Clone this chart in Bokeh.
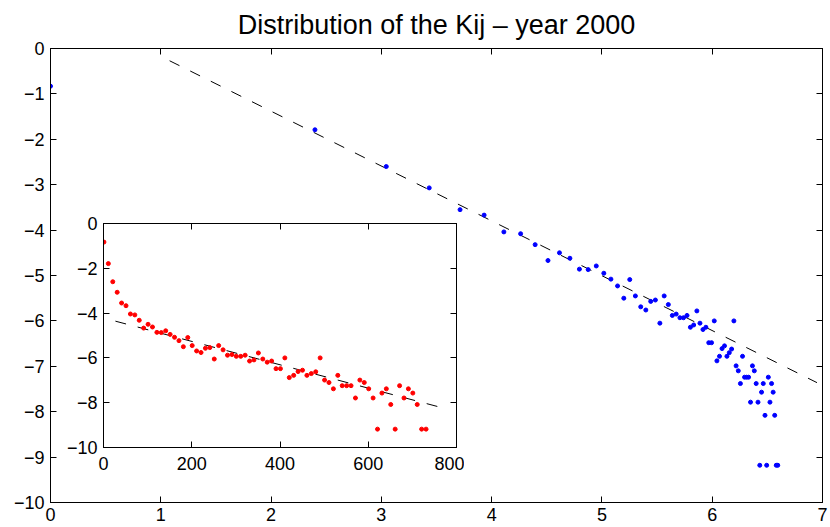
import numpy as np
from bokeh.plotting import figure
from bokeh.models import Range1d, LinearAxis, FixedTicker, CustomJSTickFormatter
from bokeh.layouts import column
from bokeh.embed import file_html
from bokeh.resources import INLINE

# ---- data -------------------------------------------------------------
# Kij values (inset x axis) and log-frequency (y axis, both panels)
kij = [1, 11, 21, 31, 41, 51, 61, 71, 81, 91,
       101, 111, 121, 131, 141, 151, 161, 171, 181, 191,
       201, 211, 221, 231, 241, 251, 261, 271, 281, 291,
       301, 311, 321, 331, 341, 351, 361, 371, 381, 391,
       401, 411, 421, 431, 441, 451, 461, 471, 481, 491,
       501, 511, 521, 531, 541, 551, 561, 571, 581, 591,
       601, 611, 621, 631, 641, 651, 661, 671, 681, 691,
       701, 711, 721, 731]
log_freq = [-0.83, -1.79, -2.60, -3.07, -3.55, -3.67, -4.04, -4.08, -4.32, -4.67,
            -4.50, -4.62, -4.86, -4.87, -4.79, -4.95, -5.08, -5.23, -5.50, -5.09,
            -5.45, -5.69, -5.76, -5.57, -5.54, -6.05, -5.45, -5.64, -5.88, -5.85,
            -5.93, -5.93, -5.88, -6.14, -6.09, -5.78, -6.05, -6.19, -6.14, -6.48,
            -6.48, -6.00, -6.88, -6.78, -6.61, -6.55, -6.78, -6.70, -6.62, -6.00,
            -6.99, -7.10, -7.38, -6.78, -7.24, -7.24, -7.24, -7.79, -6.99, -7.10,
            -7.38, -7.79, -9.18, -7.57, -7.38, -8.08, -9.18, -7.24, -7.79, -7.38,
            -7.57, -8.08, -9.18, -9.18]
log_kij = np.log(np.array(kij, dtype=float))

# fitted lines (end points)
main_fit_x = [1.08, 6.95]
main_fit_y = [-0.27, -7.36]
inset_fit_x = [27, 757]
inset_fit_y = [-4.36, -8.17]

main_xticks = [0, 1, 2, 3, 4, 5, 6, 7]
main_yticks = [0, -1, -2, -3, -4, -5, -6, -7, -8, -9, -10]
inset_xticks = [0, 200, 400, 600, 800]
inset_yticks = [0, -2, -4, -6, -8, -10]

TITLE = "Distribution of the Kij \u2013 year 2000"
FONT = "Liberation Sans"

fmt_code = "return tick < 0 ? '\\u2212' + String(-tick) : String(tick);"


def style_axis(ax, ticks, labels=True, standoff=6):
    ax.ticker = FixedTicker(ticks=ticks)
    ax.formatter = CustomJSTickFormatter(code=fmt_code)
    ax.major_tick_in = 6
    ax.major_tick_out = 0
    ax.minor_tick_in = 0
    ax.minor_tick_out = 0
    ax.axis_line_color = "black"
    ax.axis_line_width = 1
    ax.major_tick_line_color = "black"
    ax.major_tick_line_width = 1
    ax.major_label_text_font = FONT
    if labels:
        ax.major_label_text_color = "black"
        ax.major_label_text_font_size = "18px"
        ax.major_label_standoff = standoff
    else:
        # mirrored box ticks only, no labels drawn
        ax.major_label_text_color = None
        ax.major_label_text_alpha = 0
        ax.major_label_text_font_size = "0px"
        ax.major_label_standoff = 0


# ---- main figure --------------------------------------------------------
p = figure(width=830, height=527, x_range=Range1d(0, 7), y_range=Range1d(-10, 0),
           output_backend="svg", toolbar_location=None,
           min_border_left=49, min_border_right=7, min_border_top=48, min_border_bottom=25)
p.xgrid.visible = False
p.ygrid.visible = False
p.background_fill_color = "white"
p.border_fill_color = "white"
p.outline_line_color = "black"

p.title.text = TITLE
p.title.align = "center"
p.title.vertical_align = "top"
p.title.text_font = FONT
p.title.text_font_size = "27px"
p.title.text_font_style = "normal"
p.title.text_color = "black"
p.title.standoff = 14

style_axis(p.xaxis[0], main_xticks, True, 5)
style_axis(p.yaxis[0], main_yticks, True, 6)
top_ax = LinearAxis()
right_ax = LinearAxis()
style_axis(top_ax, main_xticks, False)
style_axis(right_ax, main_yticks, False)
p.add_layout(top_ax, "above")
p.add_layout(right_ax, "right")

p.line(main_fit_x, main_fit_y, line_color="black", line_width=1, line_dash="11 12")
p.scatter(log_kij, log_freq, size=4, fill_color="#0000ff", line_color="#0000ff")

# ---- inset figure -------------------------------------------------------
pi = figure(width=411, height=262, x_range=Range1d(0, 800), y_range=Range1d(-10, 0),
            output_backend="svg", toolbar_location=None,
            min_border_left=50, min_border_right=8, min_border_top=8, min_border_bottom=30)
pi.styles = {"position": "absolute", "left": "53px", "top": "215px"}
pi.xgrid.visible = False
pi.ygrid.visible = False
pi.background_fill_color = "white"
pi.border_fill_alpha = 0
pi.outline_line_color = "black"

style_axis(pi.xaxis[0], inset_xticks, True, 9)
style_axis(pi.yaxis[0], inset_yticks, True, 6)
itop = LinearAxis()
iright = LinearAxis()
style_axis(itop, inset_xticks, False)
style_axis(iright, inset_yticks, False)
pi.add_layout(itop, "above")
pi.add_layout(iright, "right")

pi.line(inset_fit_x, inset_fit_y, line_color="black", line_width=1, line_dash="11 12")
pi.scatter(kij, log_freq, size=4, fill_color="#ff0000", line_color="#ff0000")

layout = column(p, pi)
open("out.html", "w").write(file_html(layout, INLINE))
